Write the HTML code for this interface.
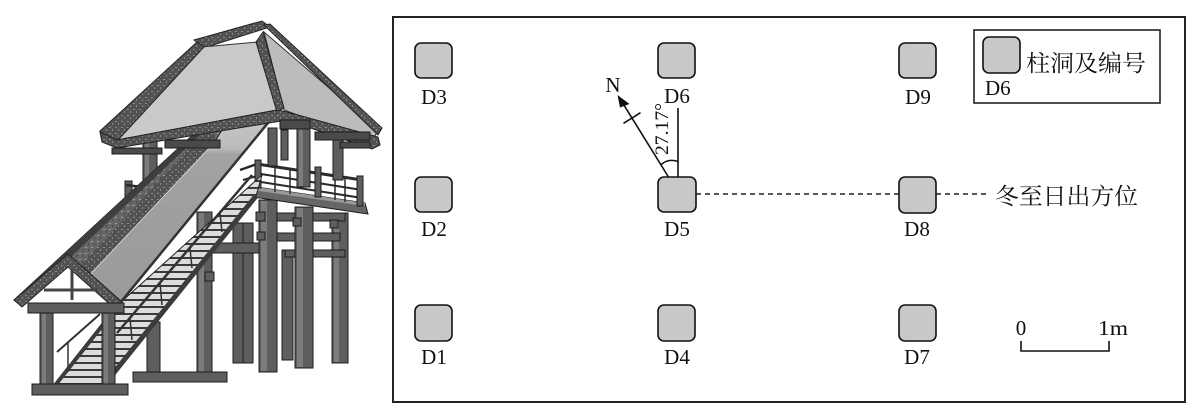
<!DOCTYPE html>
<html><head><meta charset="utf-8"><style>
html,body{margin:0;padding:0;background:#fff;width:1200px;height:419px;overflow:hidden}
svg{display:block}
.lb{font-family:"Liberation Serif","Noto Serif CJK SC",serif;font-size:21px;fill:#111}
.cj{font-family:"Liberation Serif","Noto Serif CJK SC","Noto Sans CJK SC",serif;font-size:23px;fill:#111}
.sq{fill:#c8c8c8;stroke:#111;stroke-width:1.6}
.p{fill:#5e5e5e;stroke:#1c1c1c;stroke-width:1}
.ph{fill:#7c7c7c}
.dk{fill:url(#tex);stroke:#222;stroke-width:1}
</style></head><body>
<svg width="1200" height="419" viewBox="0 0 1200 419" xmlns="http://www.w3.org/2000/svg">
<defs>
<pattern id="tr" width="8" height="7" patternUnits="userSpaceOnUse"><rect width="8" height="7" fill="#dcdcdc"/><rect y="5" width="8" height="2" fill="#3a3a3a"/></pattern>
<linearGradient id="pg" x1="0" y1="0" x2="0" y2="1"><stop offset="0" stop-color="#c6c6c6"/><stop offset="0.17" stop-color="#bcbcbc"/><stop offset="0.2" stop-color="#a2a2a2"/><stop offset="1" stop-color="#9a9a9a"/></linearGradient>
<pattern id="tex" width="6" height="6" patternUnits="userSpaceOnUse"><rect width="6" height="6" fill="#525252"/><rect x="1" y="1" width="2" height="1" fill="#8c8c8c"/><rect x="4" y="3" width="1" height="2" fill="#888"/></pattern>
<pattern id="tex2" width="6" height="6" patternUnits="userSpaceOnUse"><rect width="6" height="6" fill="#666"/><rect x="1" y="1" width="2" height="1" fill="#a0a0a0"/><rect x="4" y="3" width="1" height="2" fill="#444"/></pattern>
</defs>

<!-- ===== LEFT ILLUSTRATION ===== -->
<rect class="p" x="233" y="223" width="10" height="140"/>
<rect class="p" x="243" y="223" width="10" height="140"/>
<rect class="p" x="282" y="250" width="11" height="110"/>
<rect class="p" x="332" y="213" width="16" height="150"/><rect class="ph" x="334" y="214" width="5" height="148"/>
<rect class="p" x="212" y="243" width="50" height="10"/>
<rect class="p" x="265" y="213" width="80" height="8"/>
<rect class="p" x="265" y="233" width="75" height="8"/>
<rect class="p" x="285" y="250" width="60" height="7"/>
<rect class="p" x="259" y="200" width="18" height="172"/><rect class="ph" x="261" y="201" width="6" height="170"/>
<rect class="p" x="295" y="207" width="18" height="161"/><rect class="ph" x="297" y="208" width="6" height="159"/>
<rect class="p" x="197" y="212" width="15" height="166"/><rect class="ph" x="199" y="213" width="5" height="164"/>
<rect class="p" x="147" y="322" width="13" height="50"/>
<rect class="p" x="133" y="372" width="94" height="10"/>
<rect class="p" x="256" y="212" width="9" height="9"/><rect class="p" x="293" y="218" width="8" height="8"/><rect class="p" x="330" y="220" width="8" height="8"/><rect class="p" x="205" y="272" width="9" height="9"/><rect class="p" x="257" y="232" width="8" height="8"/>
<polygon points="250,186 365,203 368,214 253,197" fill="#666" stroke="#1c1c1c"/>
<polygon points="250,186 365,203 365,206 251,190" fill="#999"/>
<g stroke="#2a2a2a" fill="none">
<line x1="257" y1="164" x2="362" y2="180" stroke-width="3"/>
<line x1="261" y1="174" x2="362" y2="190" stroke-width="2"/>
<line x1="261" y1="182" x2="362" y2="198" stroke-width="2"/>
<line x1="240" y1="170" x2="257" y2="164" stroke-width="2.5"/>
<line x1="243" y1="180" x2="257" y2="176" stroke-width="2"/>
<line x1="275" y1="168" x2="275" y2="192" stroke-width="1.5"/>
<line x1="290" y1="170" x2="290" y2="194" stroke-width="1.5"/>
<line x1="335" y1="176" x2="335" y2="200" stroke-width="1.5"/>
<line x1="345" y1="178" x2="345" y2="202" stroke-width="1.5"/>
</g>
<rect class="p" x="255" y="160" width="6" height="28"/>
<rect class="p" x="315" y="167" width="6" height="30"/>
<rect class="p" x="357" y="176" width="6" height="30"/>
<rect class="p" x="143" y="138" width="14" height="52"/><rect class="ph" x="145" y="139" width="4" height="50"/>
<rect class="p" x="297" y="123" width="13" height="64"/><rect class="ph" x="299" y="124" width="4" height="62"/>
<rect class="p" x="333" y="128" width="10" height="52"/>
<rect class="p" x="268" y="128" width="9" height="38"/>
<rect class="p" x="281" y="130" width="7" height="30"/>
<rect class="p" x="125" y="181" width="7" height="20"/>
<line x1="126" y1="185" x2="150" y2="188" stroke="#2a2a2a" stroke-width="2.5"/>

<!-- stairs -->
<polygon points="53,388 100,390 256,196 262,175 120,303 110,318" fill="url(#tr)" stroke="#222"/>
<line x1="100" y1="390" x2="256" y2="196" stroke="#3c3c3c" stroke-width="5"/>
<line x1="53" y1="388" x2="120" y2="303" stroke="#3c3c3c" stroke-width="4"/>
<line x1="117" y1="333" x2="252" y2="175" stroke="#333" stroke-width="2.5"/>
<g stroke="#333" stroke-width="1.5">
<line x1="130" y1="318" x2="132" y2="340"/><line x1="160" y1="283" x2="162" y2="305"/><line x1="190" y1="248" x2="192" y2="268"/><line x1="220" y1="213" x2="222" y2="232"/>
</g>

<!-- stair roof -->
<polygon points="14,300 211,118 238,112 214,143 86,279 68,260 22,306" fill="url(#tex2)" stroke="#222"/>
<polygon points="14,300 211,118 216,120 20,305" fill="#3e3e3e"/>
<polygon points="204,132 214,130 214,143 86,279 74,273" fill="url(#tex)"/>
<polygon points="214,143 230,117 272,118 120,303 86,279" fill="url(#pg)" stroke="#222"/>
<line x1="272" y1="118" x2="120" y2="303" stroke="#333" stroke-width="2.5"/>
<line x1="214" y1="143" x2="86" y2="279" stroke="#ddd" stroke-width="1"/>
<!-- gable -->
<polygon points="68,266 30,300 108,300" fill="#fff"/>
<polygon class="dk" points="68,254 14,300 22,307 68,267 114,308 122,302"/>
<line x1="72" y1="270" x2="72" y2="300" stroke="#444" stroke-width="3"/>
<line x1="44" y1="290" x2="98" y2="290" stroke="#444" stroke-width="3"/>
<rect class="p" x="28" y="303" width="96" height="10"/>
<rect class="p" x="40" y="313" width="13" height="74"/><rect class="ph" x="42" y="314" width="4" height="72"/>
<rect class="p" x="102" y="313" width="13" height="77"/><rect class="ph" x="104" y="314" width="4" height="75"/>
<line x1="57" y1="352" x2="100" y2="314" stroke="#333" stroke-width="2"/>
<line x1="68" y1="342" x2="68" y2="372" stroke="#333" stroke-width="1.5"/>
<rect class="p" x="32" y="384" width="96" height="11"/>

<!-- main roof -->
<polygon class="dk" points="194,40 262,21 270,27 204,48"/>
<polygon points="202,47 258,42 277,110 117,140" fill="#c9c9c9" stroke="#333"/>
<polygon points="264,32 378,130 372,142 284,110" fill="#bcbcbc" stroke="#333"/>
<polygon class="dk" points="197,42 204,47 118,140 101,135 100,131"/>
<polygon class="dk" points="256,42 263,32 284,108 277,112"/>
<polygon class="dk" points="264,25 270,24 382,128 378,135"/>
<polygon class="dk" points="100,132 117,140 277,110 287,112 378,137 380,145 372,149 287,120 117,148 102,142"/>
<g fill="#4a4a4a" stroke="#1c1c1c">
<rect x="112" y="148" width="50" height="6"/>
<rect x="165" y="140" width="55" height="8"/>
<rect x="280" y="120" width="30" height="9"/>
<rect x="315" y="132" width="55" height="8"/>
<rect x="340" y="142" width="30" height="6"/>
</g>

<!-- ===== RIGHT DIAGRAM ===== -->
<rect x="393" y="17" width="792" height="385" fill="none" stroke="#222" stroke-width="2"/>
<rect x="974" y="30" width="186" height="73" fill="none" stroke="#222" stroke-width="1.6"/>
<rect class="sq" x="983" y="37" width="37" height="36" rx="6"/>
<text class="cj" x="1026" y="71" textLength="120" lengthAdjust="spacingAndGlyphs">柱洞及编号</text>
<text class="lb" x="985" y="95">D6</text>

<g stroke="#222" stroke-width="1.5" stroke-dasharray="5 4">
<line x1="696" y1="194" x2="899" y2="194"/>
<line x1="936" y1="194" x2="988" y2="194"/>
</g>
<text class="cj" x="995" y="204" textLength="143" lengthAdjust="spacingAndGlyphs">冬至日出方位</text>

<rect class="sq" x="415" y="43" width="37" height="35" rx="6"/>
<rect class="sq" x="658" y="43" width="37" height="35" rx="6"/>
<rect class="sq" x="899" y="43" width="37" height="35" rx="6"/>
<rect class="sq" x="415" y="177" width="37" height="35" rx="6"/>
<rect class="sq" x="658" y="177" width="38" height="35" rx="6"/>
<rect class="sq" x="899" y="177" width="37" height="36" rx="6"/>
<rect class="sq" x="415" y="305" width="37" height="36" rx="6"/>
<rect class="sq" x="658" y="305" width="37" height="36" rx="6"/>
<rect class="sq" x="899" y="305" width="37" height="36" rx="6"/>

<g class="lb" text-anchor="middle">
<text x="434" y="104">D3</text>
<text x="677" y="103">D6</text>
<text x="918" y="104">D9</text>
<text x="434" y="236">D2</text>
<text x="677" y="236">D5</text>
<text x="917" y="236">D8</text>
<text x="434" y="364">D1</text>
<text x="677" y="364">D4</text>
<text x="917" y="364">D7</text>
</g>

<line x1="678" y1="108" x2="678" y2="177" stroke="#111" stroke-width="1.6"/>
<line x1="668.5" y1="177" x2="622" y2="102" stroke="#111" stroke-width="1.6"/>
<polygon points="617.5,95 629.5,104 620,107.5" fill="#111"/>
<line x1="623.5" y1="123.3" x2="640.5" y2="112.7" stroke="#111" stroke-width="1.6"/>
<path d="M660.6,165 Q668,158 678,161.5" fill="none" stroke="#111" stroke-width="1.5"/>
<text class="lb" x="613" y="92" text-anchor="middle">N</text>
<text class="lb" style="font-size:19px" transform="translate(668,155) rotate(-90)" textLength="52" lengthAdjust="spacingAndGlyphs">27.17°</text>

<polyline points="1021,341 1021,351 1109,351 1109,341" fill="none" stroke="#111" stroke-width="1.6"/>
<text class="lb" x="1021" y="335" text-anchor="middle">0</text>
<text class="lb" x="1098" y="335" textLength="30" lengthAdjust="spacingAndGlyphs">1m</text>
</svg>
</body></html>
